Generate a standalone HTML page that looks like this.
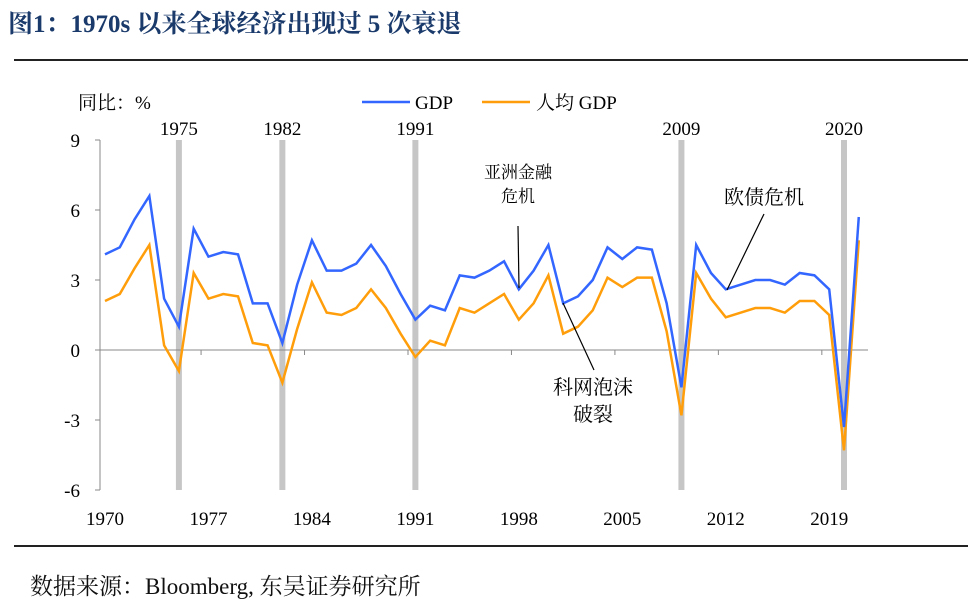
<!DOCTYPE html>
<html><head><meta charset="utf-8">
<style>
body{margin:0;background:#fff;width:972px;height:606px;overflow:hidden;font-family:"Liberation Serif","Noto Serif CJK SC",serif;}
#title{position:absolute;left:8px;top:4px;font-size:25px;font-weight:bold;color:#1a3a6b;font-family:"Liberation Serif","Noto Serif CJK SC",serif;white-space:nowrap;}
.rule{position:absolute;left:14px;width:954px;height:2px;background:#222;}
#src{position:absolute;left:30px;top:568px;font-size:23px;color:#111;font-family:"Liberation Serif","Noto Serif CJK SC",serif;white-space:nowrap;}
svg{position:absolute;left:0;top:0;}
svg text{font-family:"Liberation Serif","Noto Serif CJK SC",serif;}
</style></head><body>
<div id="title">图1：1970s 以来全球经济出现过 5 次衰退</div>
<div class="rule" style="top:59px"></div>
<div class="rule" style="top:545px"></div>
<div id="src">数据来源：Bloomberg, 东吴证券研究所</div>
<svg id="chart" width="972" height="606"></svg>
<script>
const years=[];for(let y=1970;y<=2021;y++)years.push(y);
const gdp=[4.1,4.4,5.6,6.6,2.2,1.0,5.2,4.0,4.2,4.1,2.0,2.0,0.3,2.8,4.7,3.4,3.4,3.7,4.5,3.6,2.4,1.3,1.9,1.7,3.2,3.1,3.4,3.8,2.6,3.4,4.5,2.0,2.3,3.0,4.4,3.9,4.4,4.3,2.0,-1.6,4.5,3.3,2.6,2.8,3.0,3.0,2.8,3.3,3.2,2.6,-3.3,5.7];
const perCapita=[2.1,2.4,3.5,4.5,0.2,-0.9,3.3,2.2,2.4,2.3,0.3,0.2,-1.4,0.9,2.9,1.6,1.5,1.8,2.6,1.8,0.7,-0.3,0.4,0.2,1.8,1.6,2.0,2.4,1.3,2.0,3.2,0.7,1.0,1.7,3.1,2.7,3.1,3.1,0.8,-2.8,3.3,2.2,1.4,1.6,1.8,1.8,1.6,2.1,2.1,1.5,-4.3,4.7];
const recessions=[1975,1982,1991,2009,2020];
const yTicks=[9,6,3,0,-3,-6];
const xLabels=[1970,1977,1984,1991,1998,2005,2012,2019];
const svg=document.getElementById('chart');const NS='http://www.w3.org/2000/svg';
const X=y=>105+(y-1970)*14.78;
const Y=v=>350-v*70/3;
function mk(t,a){const e=document.createElementNS(NS,t);for(const k in a)e.setAttribute(k,a[k]);svg.appendChild(e);return e;}
recessions.forEach(r=>{
 const b=mk('rect',{x:X(r)-3,y:Y(9),width:6,height:Y(-6)-Y(9),fill:'#c6c6c6'});
 
 
 const t=mk('text',{x:X(r),y:135,'text-anchor':'middle','font-size':19,fill:'#000'});t.textContent=r;
 
 
});
const ax=mk('line',{x1:100,y1:Y(9),x2:100,y2:Y(-6),stroke:'#888'});


yTicks.forEach(v=>{
 mk('line',{x1:95,y1:Y(v),x2:100,y2:Y(v),stroke:'#888'});
 const t=mk('text',{x:80,y:Y(v)+7,'text-anchor':'end','font-size':19});t.textContent=v;
 
 
});
const xa=mk('line',{x1:100,y1:Y(0),x2:868,y2:Y(0),stroke:'#888'});


xLabels.forEach(v=>{
 const tx=X(v)-0.5*14.78;
 if(v>1970)mk('line',{x1:tx,y1:Y(0),x2:tx,y2:Y(0)+5,stroke:'#888'});
 const t=mk('text',{x:X(v),y:525,'text-anchor':'middle','font-size':19});t.textContent=v;
 
 
});
function line(d,c,n){const p=mk('polyline',{points:d.map((v,i)=>X(years[i])+','+Y(v)).join(' '),fill:'none',stroke:c,'stroke-width':2.5,'stroke-linejoin':'miter'});
 
 }
line(perCapita,'#ff9e0a','per-capita-gdp-line');
line(gdp,'#3366ff','gdp-line');
const yl=mk('text',{x:78,y:109,'font-size':19});yl.textContent='同比：%';


mk('line',{x1:362,y1:102,x2:410,y2:102,stroke:'#3366ff','stroke-width':2.5});
const l1=mk('text',{x:415,y:109,'font-size':19});l1.textContent='GDP';


mk('line',{x1:482,y1:102,x2:530,y2:102,stroke:'#ff9e0a','stroke-width':2.5});
const l2=mk('text',{x:536,y:109,'font-size':19});l2.textContent='人均 GDP';


function ann(lines,x,y,x1,y1,x2,y2,n,fs){
 mk('line',{x1,y1,x2,y2,stroke:'#000','stroke-width':1.2});
 lines.forEach((s,i)=>{const t=mk('text',{x,y:y+i*(fs+7),'text-anchor':'middle','font-size':fs});t.textContent=s;
 
 });
}
ann(['亚洲金融','危机'],518,178,518,226,519,288,'annotation-asia-crisis',17);
ann(['欧债危机'],764,204,764,214,727,290,'annotation-euro-crisis',20);
ann(['科网泡沫','破裂'],593,394,563,303,594,370,'annotation-dotcom',20);
</script>
</body></html>
